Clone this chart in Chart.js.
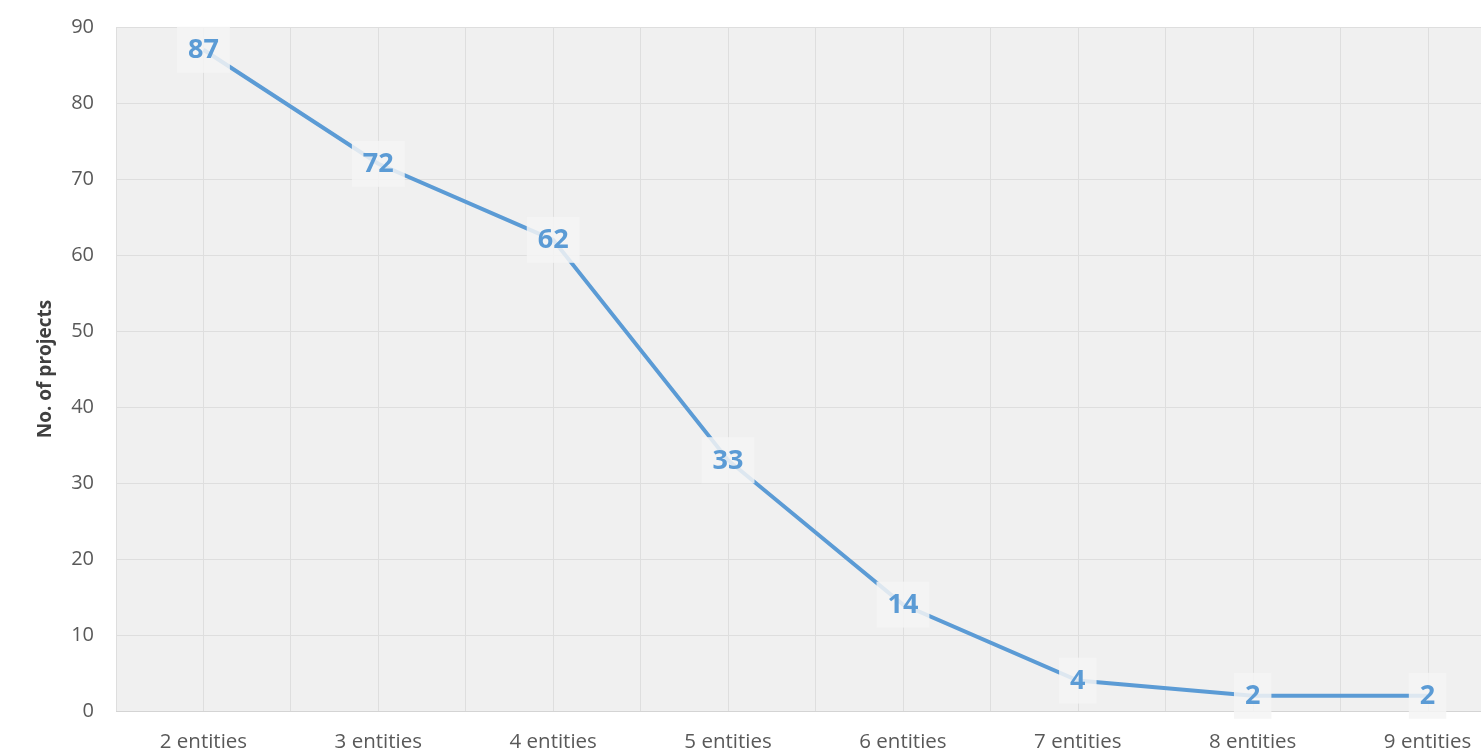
<!DOCTYPE html>
<html>
<head>
<meta charset="utf-8">
<style>
  html, body { margin: 0; padding: 0; background: #fff; overflow: hidden; }
  #wrap { width: 1540px; height: 763px; margin-top: -7px; }
</style>
<script src="https://cdn.jsdelivr.net/npm/chart.js@4/dist/chart.umd.min.js"></script>
</head>
<body>
<div id="wrap"><canvas id="chart"></canvas></div>
<script>
// Chart data
const categories = ['2 entities', '3 entities', '4 entities', '5 entities', '6 entities', '7 entities', '8 entities', '9 entities'];
const projects = [87, 72, 62, 33, 14, 4, 2, 2];
const yTicks = [0, 10, 20, 30, 40, 50, 60, 70, 80, 90];

const lineBlue = '#5b9bd5';
const gridGray = '#dedede';

Chart.defaults.font.family = "'Open Sans', sans-serif";
Chart.defaults.color = '#595959';

// Gray plot background + vertical lines through each category
const plotBackground = {
    id: 'plotBackground',
    beforeDraw(chart) {
        const { ctx, chartArea: a, scales } = chart;
        ctx.save();
        ctx.fillStyle = '#f0f0f0';
        ctx.fillRect(a.left, a.top, a.right - a.left, a.bottom - a.top);
        ctx.strokeStyle = gridGray;
        ctx.lineWidth = 1;
        categories.forEach((c, i) => {
            const x = Math.round(scales.x.getPixelForValue(i)) + 0.5;
            ctx.beginPath();
            ctx.moveTo(x, a.top);
            ctx.lineTo(x, a.bottom);
            ctx.stroke();
        });
        ctx.restore();
    }
};

// Value labels sitting on the line with a pale box behind them
const valueLabels = {
    id: 'valueLabels',
    afterDatasetsDraw(chart) {
        const { ctx } = chart;
        const meta = chart.getDatasetMeta(0);
        ctx.save();
        ctx.font = "bold 27px 'Open Sans', sans-serif";
        ctx.textAlign = 'center';
        ctx.textBaseline = 'middle';
        meta.data.forEach((pt, i) => {
            const txt = String(projects[i]);
            const w = ctx.measureText(txt).width + 22;
            const h = 46;
            ctx.fillStyle = 'rgba(244,244,244,0.85)';
            ctx.fillRect(pt.x - w / 2, pt.y - h / 2, w, h);
            ctx.fillStyle = lineBlue;
            ctx.fillText(txt, pt.x, pt.y + 1);
        });
        ctx.restore();
    }
};

new Chart(document.getElementById('chart').getContext('2d'), {
    type: 'line',
    data: {
        labels: categories,
        datasets: [{
            data: projects,
            borderColor: lineBlue,
            borderWidth: 4,
            tension: 0,
            pointRadius: 0,
            fill: false
        }]
    },
    options: {
        responsive: true,
        maintainAspectRatio: false,
        animation: false,
        layout: { padding: { top: 20, right: 25, left: 0, bottom: 0 } },
        plugins: { legend: { display: false }, tooltip: { enabled: false } },
        scales: {
            x: {
                offset: true,
                grid: { offset: true, color: gridGray, drawTicks: false },
                border: { color: '#d4d4d4', width: 1 },
                ticks: { font: { size: 20.5 }, padding: 19, maxRotation: 0 },
                afterFit(scale) { scale.height = 45; }
            },
            y: {
                min: 0,
                max: 90,
                afterBuildTicks(scale) { scale.ticks = yTicks.map(v => ({ value: v })); },
                grid: { color: gridGray, drawTicks: false },
                border: { display: false },
                ticks: { font: { size: 20 }, padding: 22 },
                title: {
                    display: true,
                    text: 'No. of projects',
                    color: '#404040',
                    font: { size: 19, weight: 'bold' },
                    padding: { top: 34, bottom: 0 }
                },
                afterFit(scale) { scale.width = 116; }
            }
        }
    },
    plugins: [plotBackground, valueLabels]
});
</script>
</body>
</html>
